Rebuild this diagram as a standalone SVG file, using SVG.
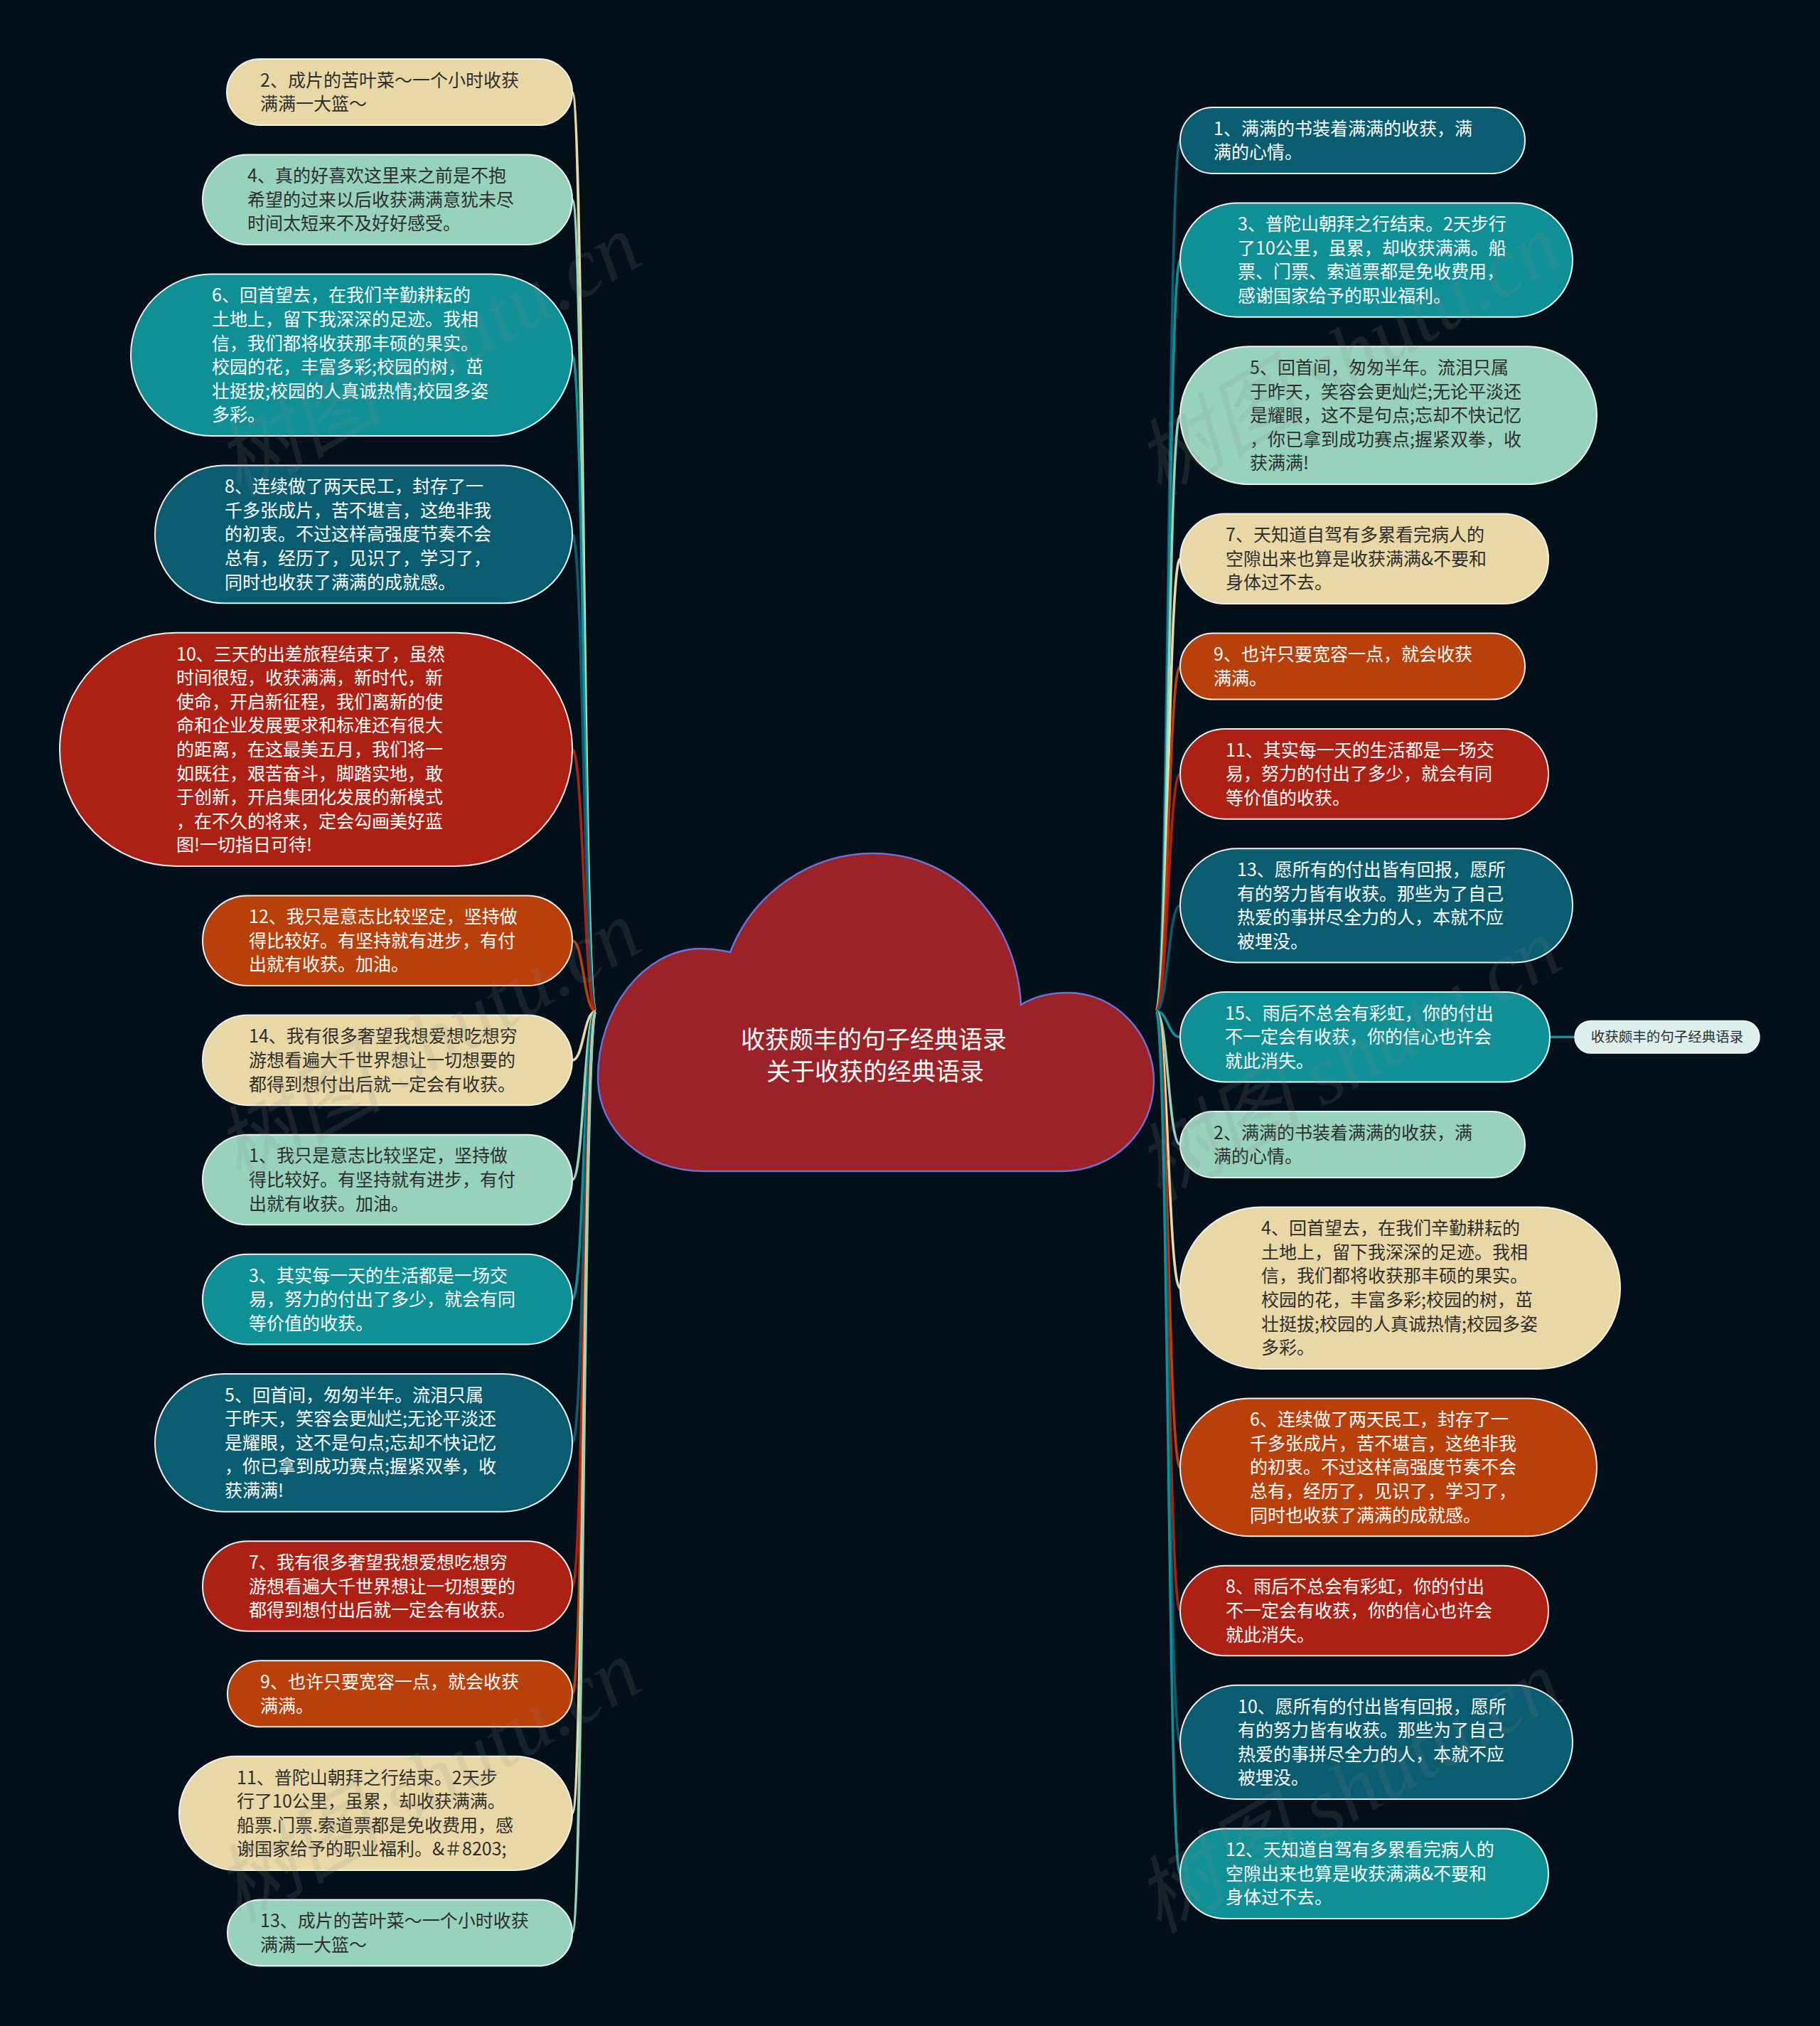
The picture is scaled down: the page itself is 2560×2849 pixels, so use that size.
<svg xmlns="http://www.w3.org/2000/svg" width="2560" height="2849" viewBox="0 0 2560 2849">
<style>
.bg{fill:#03101a}
.n rect{stroke:#f0f0f0;stroke-width:2}
.cream{fill:#e9d8a6}
.mint{fill:#97d2bd}
.teal{fill:#0f9096}
.dteal{fill:#0a5d70}
.red{fill:#ad2115}
.orange{fill:#b93f0b}
text{font-family:"Noto Sans CJK SC","Liberation Sans",sans-serif}
.t{font-size:25px}
.dk{fill:#2e2e2e}
.lt{fill:#ffffff}
.c{fill:none;stroke-width:3.6}
.sc-cream{stroke:#e9d8a6}
.sc-mint{stroke:#97d2bd}
.sc-teal{stroke:#0f9096}
.sc-dteal{stroke:#0a5d70}
.sc-red{stroke:#ad2115}
.sc-orange{stroke:#b93f0b}
.wm{font-family:"Liberation Serif","Noto Sans CJK SC",serif;font-style:italic;font-size:118px;fill:#8a8a8a;opacity:0.15}
</style>
<rect class="bg" x="0" y="0" width="2560" height="2849"/>

<g id="connectors">
<path class="c sc-cream" d="M838 1422 C821 1422 821 129.5 805 129.5"/>
<path class="c sc-mint" d="M838 1422 C821 1422 821 280.8 805 280.8"/>
<path class="c sc-teal" d="M838 1422 C821 1422 821 499.3 805 499.3"/>
<path class="c sc-dteal" d="M838 1422 C821 1422 821 751.4 805 751.4"/>
<path class="c sc-red" d="M838 1422 C821 1422 821 1053.9 805 1053.9"/>
<path class="c sc-orange" d="M838 1422 C821 1422 821 1322.8 805 1322.8"/>
<path class="c sc-cream" d="M838 1422 C821 1422 821 1490.9 805 1490.9"/>
<path class="c sc-mint" d="M838 1422 C821 1422 821 1659 805 1659"/>
<path class="c sc-teal" d="M838 1422 C821 1422 821 1827.1 805 1827.1"/>
<path class="c sc-dteal" d="M838 1422 C821 1422 821 2028.8 805 2028.8"/>
<path class="c sc-red" d="M838 1422 C821 1422 821 2230.5 805 2230.5"/>
<path class="c sc-orange" d="M838 1422 C821 1422 821 2381.8 805 2381.8"/>
<path class="c sc-cream" d="M838 1422 C821 1422 821 2549.9 805 2549.9"/>
<path class="c sc-mint" d="M838 1422 C821 1422 821 2718 805 2718"/>

<path class="c sc-dteal" d="M1626 1422 C1643 1422 1643 197.5 1660 197.5"/>
<path class="c sc-teal" d="M1626 1422 C1643 1422 1643 365.6 1660 365.6"/>
<path class="c sc-mint" d="M1626 1422 C1643 1422 1643 584.1 1660 584.1"/>
<path class="c sc-cream" d="M1626 1422 C1643 1422 1643 785.8 1660 785.8"/>
<path class="c sc-orange" d="M1626 1422 C1643 1422 1643 937.1 1660 937.1"/>
<path class="c sc-red" d="M1626 1422 C1643 1422 1643 1088.4 1660 1088.4"/>
<path class="c sc-dteal" d="M1626 1422 C1643 1422 1643 1273.3 1660 1273.3"/>
<path class="c sc-teal" d="M1626 1422 C1643 1422 1643 1458.2 1660 1458.2"/>
<path class="c sc-mint" d="M1626 1422 C1643 1422 1643 1609.5 1660 1609.5"/>
<path class="c sc-cream" d="M1626 1422 C1643 1422 1643 1811.2 1660 1811.2"/>
<path class="c sc-orange" d="M1626 1422 C1643 1422 1643 2063.3 1660 2063.3"/>
<path class="c sc-red" d="M1626 1422 C1643 1422 1643 2265 1660 2265"/>
<path class="c sc-dteal" d="M1626 1422 C1643 1422 1643 2449.9 1660 2449.9"/>
<path class="c sc-teal" d="M1626 1422 C1643 1422 1643 2634.8 1660 2634.8"/>

<path class="c sc-teal" d="M2180 1458.2 L2215 1458.2"/>
</g>

<g id="root">
<path d="M990 1647 C905 1647 841 1590 841 1515 C841 1420 905 1335 985 1334 C1000 1334 1015 1336 1027 1339 C1060 1255 1140 1200 1228 1200 C1340 1200 1430 1290 1436 1413 C1455 1401 1478 1396 1502 1396 C1570 1396 1623 1455 1623 1520 C1623 1592 1566 1647 1492 1647 Z" fill="#9b2227" stroke="#6b6fd6" stroke-width="2.5"/>
<text x="1229" y="1474" font-size="34" fill="#ffffff" text-anchor="middle">收获颇丰的句子经典语录</text>
<text x="1231" y="1519" font-size="34" fill="#ffffff" text-anchor="middle">关于收获的经典语录</text>
</g>

<g id="nodeL2" class="n"><rect class="cream" x="319" y="83" width="486" height="93" rx="46.5"/>
<text class="t dk" x="366" y="121.7">2、成片的苦叶菜～一个小时收获<tspan x="366" dy="33.6">满满一大篮～</tspan></text></g>

<g id="nodeL4" class="n"><rect class="mint" x="285" y="217.5" width="520" height="126.6" rx="63.3"/>
<text class="t dk" x="348" y="256.2">4、真的好喜欢这里来之前是不抱<tspan x="348" dy="33.6">希望的过来以后收获满满意犹未尽</tspan><tspan x="348" dy="33.6">时间太短来不及好好感受。</tspan></text></g>

<g id="nodeL6" class="n"><rect class="teal" x="184" y="385.6" width="621" height="227.4" rx="113.7"/>
<text class="t lt" x="298" y="424.3">6、回首望去，在我们辛勤耕耘的<tspan x="298" dy="33.6">土地上，留下我深深的足迹。我相</tspan><tspan x="298" dy="33.6">信，我们都将收获那丰硕的果实。</tspan><tspan x="298" dy="33.6">校园的花，丰富多彩;校园的树，茁</tspan><tspan x="298" dy="33.6">壮挺拔;校园的人真诚热情;校园多姿</tspan><tspan x="298" dy="33.6">多彩。</tspan></text></g>

<g id="nodeL8" class="n"><rect class="dteal" x="218" y="654.5" width="587" height="193.8" rx="96.9"/>
<text class="t lt" x="316" y="693.2">8、连续做了两天民工，封存了一<tspan x="316" dy="33.6">千多张成片，苦不堪言，这绝非我</tspan><tspan x="316" dy="33.6">的初衷。不过这样高强度节奏不会</tspan><tspan x="316" dy="33.6">总有，经历了，见识了，学习了，</tspan><tspan x="316" dy="33.6">同时也收获了满满的成就感。</tspan></text></g>

<g id="nodeL10" class="n"><rect class="red" x="84" y="889.8" width="721" height="328.2" rx="164.1"/>
<text class="t lt" x="248" y="928.5">10、三天的出差旅程结束了，虽然<tspan x="248" dy="33.6">时间很短，收获满满，新时代，新</tspan><tspan x="248" dy="33.6">使命，开启新征程，我们离新的使</tspan><tspan x="248" dy="33.6">命和企业发展要求和标准还有很大</tspan><tspan x="248" dy="33.6">的距离，在这最美五月，我们将一</tspan><tspan x="248" dy="33.6">如既往，艰苦奋斗，脚踏实地，敢</tspan><tspan x="248" dy="33.6">于创新，开启集团化发展的新模式</tspan><tspan x="248" dy="33.6">，在不久的将来，定会勾画美好蓝</tspan><tspan x="248" dy="33.6">图!一切指日可待!</tspan></text></g>

<g id="nodeL12" class="n"><rect class="orange" x="285" y="1259.5" width="520" height="126.6" rx="63.3"/>
<text class="t lt" x="350" y="1298.2">12、我只是意志比较坚定，坚持做<tspan x="350" dy="33.6">得比较好。有坚持就有进步，有付</tspan><tspan x="350" dy="33.6">出就有收获。加油。</tspan></text></g>

<g id="nodeL14" class="n"><rect class="cream" x="285" y="1427.6" width="520" height="126.6" rx="63.3"/>
<text class="t dk" x="350" y="1466.3">14、我有很多奢望我想爱想吃想穷<tspan x="350" dy="33.6">游想看遍大千世界想让一切想要的</tspan><tspan x="350" dy="33.6">都得到想付出后就一定会有收获。</tspan></text></g>

<g id="nodeL1" class="n"><rect class="mint" x="285" y="1595.7" width="520" height="126.6" rx="63.3"/>
<text class="t dk" x="350" y="1634.4">1、我只是意志比较坚定，坚持做<tspan x="350" dy="33.6">得比较好。有坚持就有进步，有付</tspan><tspan x="350" dy="33.6">出就有收获。加油。</tspan></text></g>

<g id="nodeL3" class="n"><rect class="teal" x="285" y="1763.8" width="520" height="126.6" rx="63.3"/>
<text class="t lt" x="350" y="1802.5">3、其实每一天的生活都是一场交<tspan x="350" dy="33.6">易，努力的付出了多少，就会有同</tspan><tspan x="350" dy="33.6">等价值的收获。</tspan></text></g>

<g id="nodeL5" class="n"><rect class="dteal" x="218" y="1931.9" width="587" height="193.8" rx="96.9"/>
<text class="t lt" x="316" y="1970.6">5、回首间，匆匆半年。流泪只属<tspan x="316" dy="33.6">于昨天，笑容会更灿烂;无论平淡还</tspan><tspan x="316" dy="33.6">是耀眼，这不是句点;忘却不快记忆</tspan><tspan x="316" dy="33.6">，你已拿到成功赛点;握紧双拳，收</tspan><tspan x="316" dy="33.6">获满满!</tspan></text></g>

<g id="nodeL7" class="n"><rect class="red" x="285" y="2167.2" width="520" height="126.6" rx="63.3"/>
<text class="t lt" x="350" y="2205.9">7、我有很多奢望我想爱想吃想穷<tspan x="350" dy="33.6">游想看遍大千世界想让一切想要的</tspan><tspan x="350" dy="33.6">都得到想付出后就一定会有收获。</tspan></text></g>

<g id="nodeL9" class="n"><rect class="orange" x="320" y="2335.3" width="485" height="93" rx="46.5"/>
<text class="t lt" x="366" y="2374">9、也许只要宽容一点，就会收获<tspan x="366" dy="33.6">满满。</tspan></text></g>

<g id="nodeL11" class="n"><rect class="cream" x="252" y="2469.8" width="553" height="160.2" rx="80.1"/>
<text class="t dk" x="333" y="2508.5">11、普陀山朝拜之行结束。2天步<tspan x="333" dy="33.6">行了10公里，虽累，却收获满满。</tspan><tspan x="333" dy="33.6">船票.门票.索道票都是免收费用，感</tspan><tspan x="333" dy="33.6">谢国家给予的职业福利。&amp;＃8203;</tspan></text></g>

<g id="nodeL13" class="n"><rect class="mint" x="320" y="2671.5" width="485" height="93" rx="46.5"/>
<text class="t dk" x="366" y="2710.2">13、成片的苦叶菜～一个小时收获<tspan x="366" dy="33.6">满满一大篮～</tspan></text></g>

<g id="nodeR1" class="n"><rect class="dteal" x="1660" y="151" width="485" height="93" rx="46.5"/>
<text class="t lt" x="1707" y="189.7">1、满满的书装着满满的收获，满<tspan x="1707" dy="33.6">满的心情。</tspan></text></g>

<g id="nodeR3" class="n"><rect class="teal" x="1660" y="285.5" width="552" height="160.2" rx="80.1"/>
<text class="t lt" x="1741" y="324.2">3、普陀山朝拜之行结束。2天步行<tspan x="1741" dy="33.6">了10公里，虽累，却收获满满。船</tspan><tspan x="1741" dy="33.6">票、门票、索道票都是免收费用，</tspan><tspan x="1741" dy="33.6">感谢国家给予的职业福利。</tspan></text></g>

<g id="nodeR5" class="n"><rect class="mint" x="1660" y="487.2" width="586" height="193.8" rx="96.9"/>
<text class="t dk" x="1758" y="525.9">5、回首间，匆匆半年。流泪只属<tspan x="1758" dy="33.6">于昨天，笑容会更灿烂;无论平淡还</tspan><tspan x="1758" dy="33.6">是耀眼，这不是句点;忘却不快记忆</tspan><tspan x="1758" dy="33.6">，你已拿到成功赛点;握紧双拳，收</tspan><tspan x="1758" dy="33.6">获满满!</tspan></text></g>

<g id="nodeR7" class="n"><rect class="cream" x="1660" y="722.5" width="518" height="126.6" rx="63.3"/>
<text class="t dk" x="1724" y="761.2">7、天知道自驾有多累看完病人的<tspan x="1724" dy="33.6">空隙出来也算是收获满满&amp;不要和</tspan><tspan x="1724" dy="33.6">身体过不去。</tspan></text></g>

<g id="nodeR9" class="n"><rect class="orange" x="1660" y="890.6" width="485" height="93" rx="46.5"/>
<text class="t lt" x="1707" y="929.3">9、也许只要宽容一点，就会收获<tspan x="1707" dy="33.6">满满。</tspan></text></g>

<g id="nodeR11" class="n"><rect class="red" x="1660" y="1025.1" width="518" height="126.6" rx="63.3"/>
<text class="t lt" x="1724" y="1063.8">11、其实每一天的生活都是一场交<tspan x="1724" dy="33.6">易，努力的付出了多少，就会有同</tspan><tspan x="1724" dy="33.6">等价值的收获。</tspan></text></g>

<g id="nodeR13" class="n"><rect class="dteal" x="1660" y="1193.2" width="552" height="160.2" rx="80.1"/>
<text class="t lt" x="1740" y="1231.9">13、愿所有的付出皆有回报，愿所<tspan x="1740" dy="33.6">有的努力皆有收获。那些为了自己</tspan><tspan x="1740" dy="33.6">热爱的事拼尽全力的人，本就不应</tspan><tspan x="1740" dy="33.6">被埋没。</tspan></text></g>

<g id="nodeR15" class="n"><rect class="teal" x="1660" y="1394.9" width="520" height="126.6" rx="63.3"/>
<text class="t lt" x="1723" y="1433.6">15、雨后不总会有彩虹，你的付出<tspan x="1723" dy="33.6">不一定会有收获，你的信心也许会</tspan><tspan x="1723" dy="33.6">就此消失。</tspan></text></g>

<g id="nodeLabel"><rect x="2215" y="1435.5" width="260" height="45.5" rx="22.7" fill="#dcefed" stroke="#f4f4f4" stroke-width="1.5"/>
<text x="2345" y="1465" font-size="19.5" fill="#2e2e2e" text-anchor="middle">收获颇丰的句子经典语录</text></g>

<g id="nodeR2" class="n"><rect class="mint" x="1660" y="1563" width="485" height="93" rx="46.5"/>
<text class="t dk" x="1707" y="1601.7">2、满满的书装着满满的收获，满<tspan x="1707" dy="33.6">满的心情。</tspan></text></g>

<g id="nodeR4" class="n"><rect class="cream" x="1660" y="1697.5" width="619" height="227.4" rx="113.7"/>
<text class="t dk" x="1774" y="1736.2">4、回首望去，在我们辛勤耕耘的<tspan x="1774" dy="33.6">土地上，留下我深深的足迹。我相</tspan><tspan x="1774" dy="33.6">信，我们都将收获那丰硕的果实。</tspan><tspan x="1774" dy="33.6">校园的花，丰富多彩;校园的树，茁</tspan><tspan x="1774" dy="33.6">壮挺拔;校园的人真诚热情;校园多姿</tspan><tspan x="1774" dy="33.6">多彩。</tspan></text></g>

<g id="nodeR6" class="n"><rect class="orange" x="1660" y="1966.4" width="586" height="193.8" rx="96.9"/>
<text class="t lt" x="1758" y="2005.1">6、连续做了两天民工，封存了一<tspan x="1758" dy="33.6">千多张成片，苦不堪言，这绝非我</tspan><tspan x="1758" dy="33.6">的初衷。不过这样高强度节奏不会</tspan><tspan x="1758" dy="33.6">总有，经历了，见识了，学习了，</tspan><tspan x="1758" dy="33.6">同时也收获了满满的成就感。</tspan></text></g>

<g id="nodeR8" class="n"><rect class="red" x="1660" y="2201.7" width="518" height="126.6" rx="63.3"/>
<text class="t lt" x="1724" y="2240.4">8、雨后不总会有彩虹，你的付出<tspan x="1724" dy="33.6">不一定会有收获，你的信心也许会</tspan><tspan x="1724" dy="33.6">就此消失。</tspan></text></g>

<g id="nodeR10" class="n"><rect class="dteal" x="1660" y="2369.8" width="552" height="160.2" rx="80.1"/>
<text class="t lt" x="1741" y="2408.5">10、愿所有的付出皆有回报，愿所<tspan x="1741" dy="33.6">有的努力皆有收获。那些为了自己</tspan><tspan x="1741" dy="33.6">热爱的事拼尽全力的人，本就不应</tspan><tspan x="1741" dy="33.6">被埋没。</tspan></text></g>

<g id="nodeR12" class="n"><rect class="teal" x="1660" y="2571.5" width="518" height="126.6" rx="63.3"/>
<text class="t lt" x="1724" y="2610.2">12、天知道自驾有多累看完病人的<tspan x="1724" dy="33.6">空隙出来也算是收获满满&amp;不要和</tspan><tspan x="1724" dy="33.6">身体过不去。</tspan></text></g>

<g id="watermarks">
<text class="wm" x="335" y="700" transform="rotate(-30 335 700)">树图 shutu.cn</text>
<text class="wm" x="335" y="1665" transform="rotate(-30 335 1665)">树图 shutu.cn</text>
<text class="wm" x="335" y="2705" transform="rotate(-30 335 2705)">树图 shutu.cn</text>
<text class="wm" x="1630" y="700" transform="rotate(-30 1630 700)">树图 shutu.cn</text>
<text class="wm" x="1630" y="1690" transform="rotate(-30 1630 1690)">树图 shutu.cn</text>
<text class="wm" x="1630" y="2720" transform="rotate(-30 1630 2720)">树图 shutu.cn</text>
</g>
</svg>
